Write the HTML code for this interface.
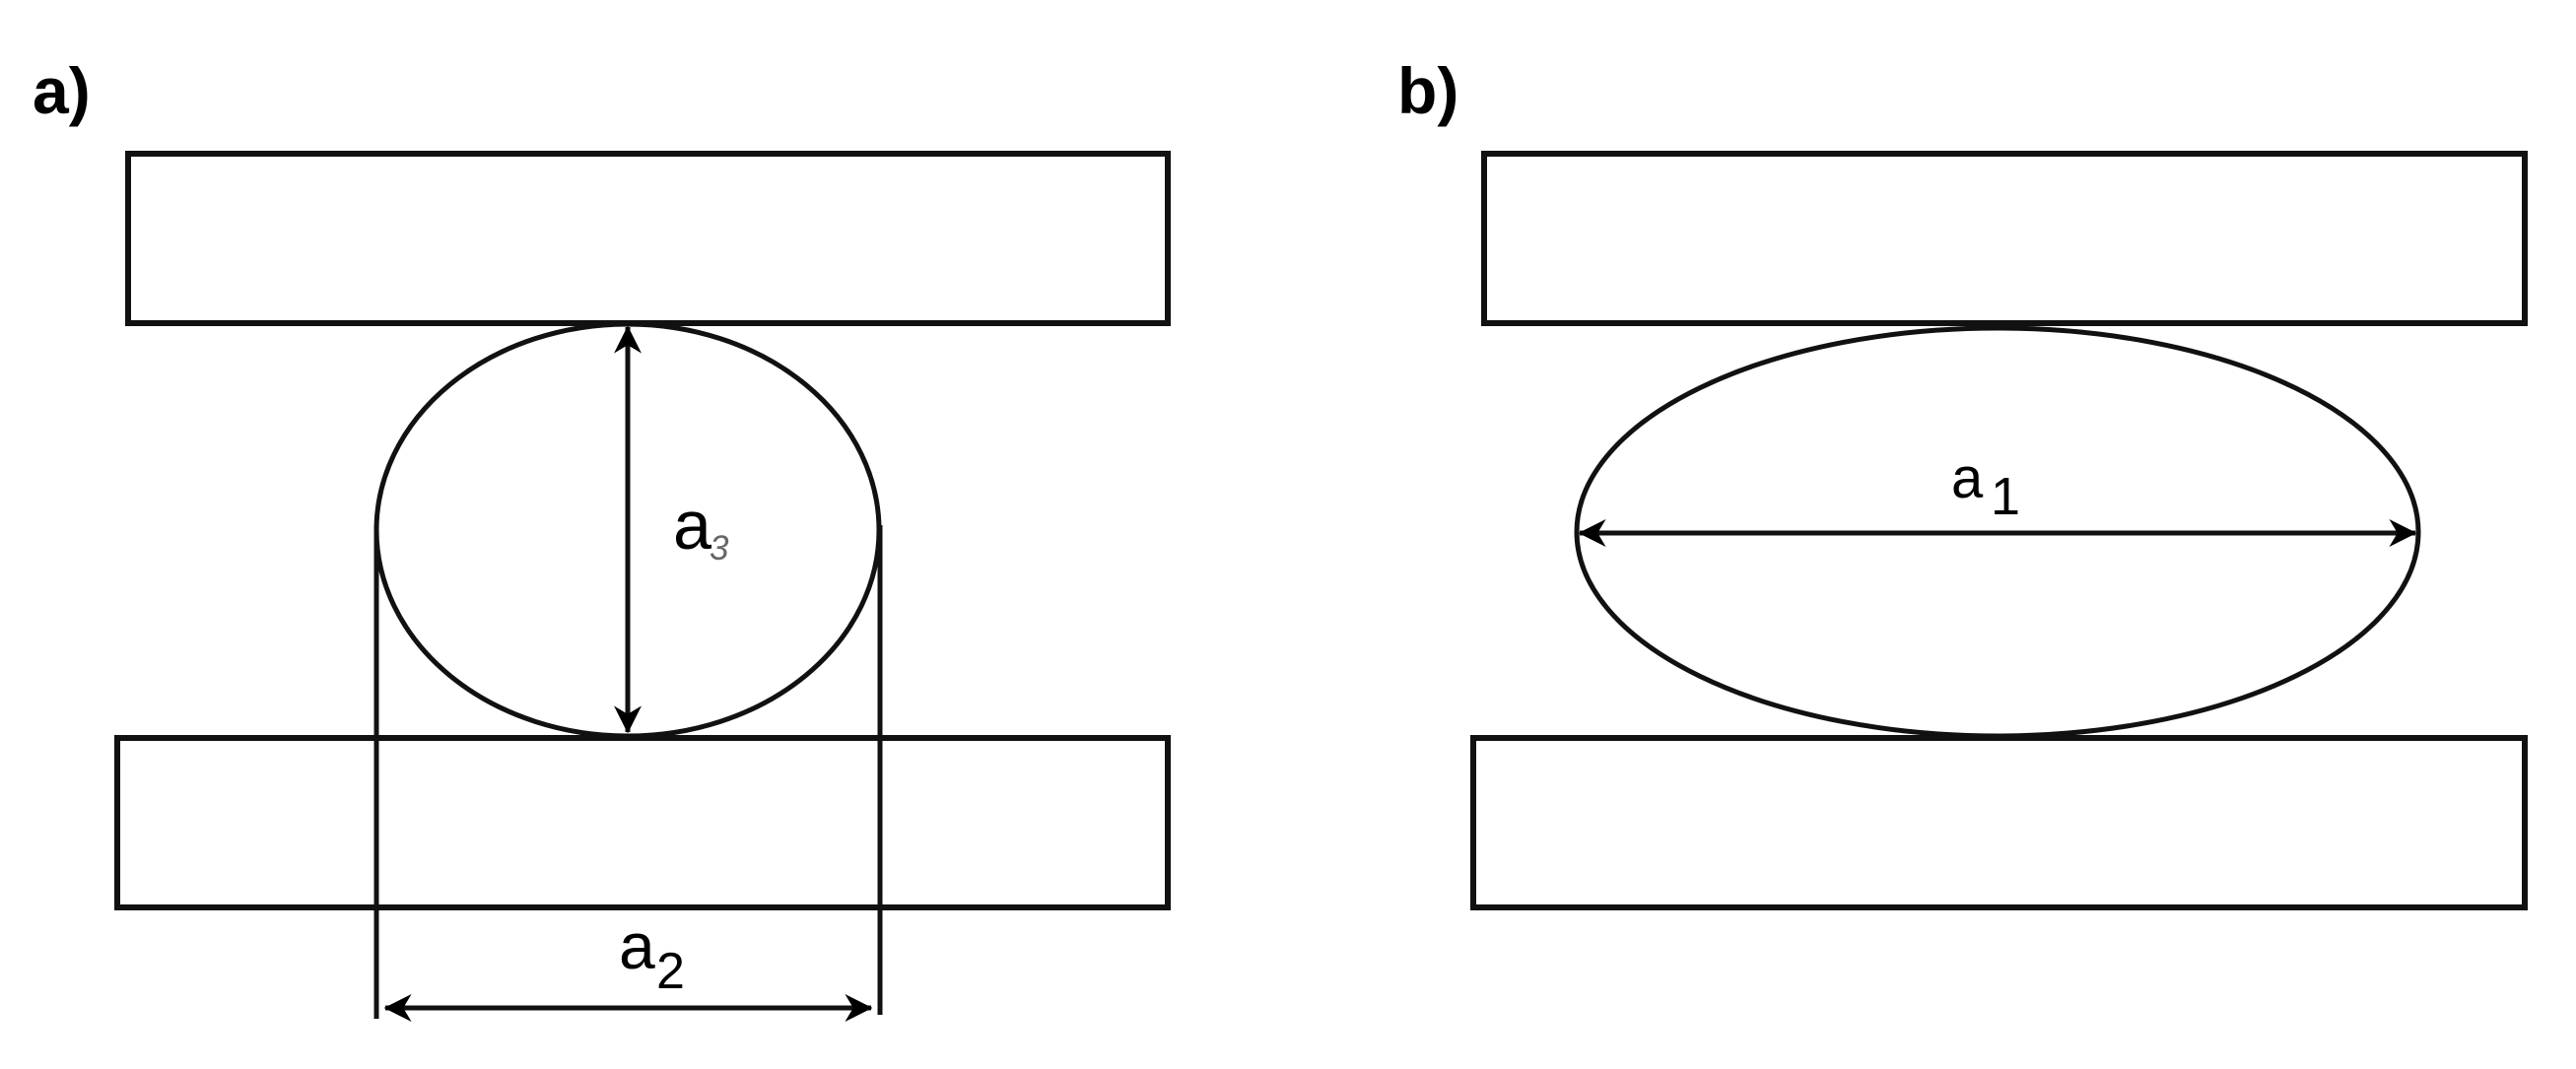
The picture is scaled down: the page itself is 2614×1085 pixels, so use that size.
<!DOCTYPE html>
<html><head><meta charset="utf-8"><style>
html,body{margin:0;padding:0;background:#fff;}
svg{display:block;}
</style></head><body>
<svg width="2614" height="1085" viewBox="0 0 2614 1085" xmlns="http://www.w3.org/2000/svg">
<defs>
<marker id="ah" viewBox="0 0 20 20" refX="19" refY="10" markerWidth="28" markerHeight="28" markerUnits="userSpaceOnUse" orient="auto-start-reverse">
<path d="M0,0 L20,10 L0,20 L6,10 Z" fill="#000"/>
</marker>
</defs>
<g fill="none" stroke="#111" stroke-width="6">
<rect x="130" y="156" width="1055" height="172"/>
<rect x="119" y="749" width="1066" height="172"/>
<rect x="1506" y="156" width="1056" height="172"/>
<rect x="1495" y="749" width="1067" height="172"/>
</g>
<g fill="none" stroke="#111" stroke-width="5">
<ellipse cx="637" cy="538" rx="255" ry="209"/>
<ellipse cx="2027" cy="540" rx="427" ry="207"/>
<line x1="382" y1="533" x2="382" y2="1034"/>
<line x1="893" y1="533" x2="893" y2="1030"/>
<line x1="637" y1="332" x2="637" y2="743" marker-start="url(#ah)" marker-end="url(#ah)"/>
<line x1="391" y1="1023" x2="884" y2="1023" marker-start="url(#ah)" marker-end="url(#ah)"/>
<line x1="1603" y1="541" x2="2451" y2="541" marker-start="url(#ah)" marker-end="url(#ah)"/>
</g>
<g font-family="Liberation Sans, sans-serif">
<text x="33" y="115" font-size="66" font-weight="bold">a)</text>
<text x="1418" y="115" font-size="66" font-weight="bold">b)</text>
<text x="683" y="557" font-size="70">a</text>
<text x="720" y="568" font-size="35" font-style="italic" fill="#666">3</text>
<text x="628" y="983" font-size="66">a</text>
<text x="666" y="1003" font-size="52">2</text>
<text x="1980" y="505" font-size="58">a</text>
<text x="2020" y="522" font-size="54">1</text>
</g>
</svg>
</body></html>
